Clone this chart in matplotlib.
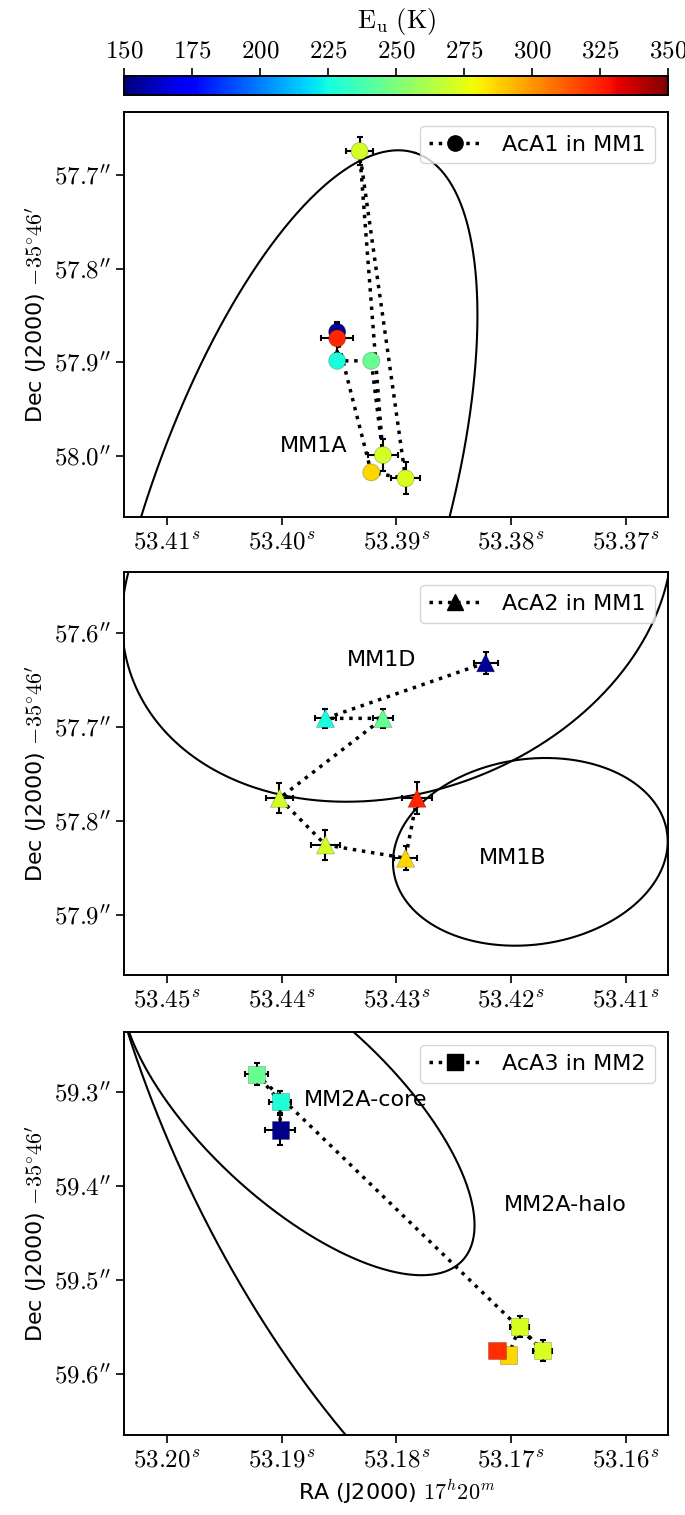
import numpy as np
import matplotlib
matplotlib.use("Agg")
import matplotlib.pyplot as plt
from matplotlib.lines import Line2D

plt.rcParams['mathtext.fontset'] = 'cm'
plt.rcParams['font.family'] = ['DejaVu Sans']

# ---------------- data ----------------
# Panel 1: AcA1 in MM1 (circles)
ra1 = [53.39515, 53.39515, 53.39218, 53.39116, 53.39320, 53.38919, 53.39218, 53.39515]
dec1 = [57.8675, 57.8985, 57.8985, 57.9992, 57.6744, 58.0241, 58.0177, 57.8745]
rae1 = [0.0006, 0.0004, 0.0004, 0.0013, 0.0012, 0.0013, 0.0005, 0.0014]
dece1 = [0.010, 0.005, 0.005, 0.017, 0.015, 0.017, 0.006, 0.016]
eu1 = [153, 226, 245, 271, 271, 273, 286, 324]

# Panel 2: AcA2 in MM1 (triangles)
ra2 = [53.42221, 53.43617, 53.43116, 53.44018, 53.43617, 53.42919, 53.42819]
dec2 = [57.6319, 57.6910, 57.6910, 57.7760, 57.8256, 57.8397, 57.7760]
rae2 = [0.00105, 0.0009, 0.0009, 0.0012, 0.0013, 0.0010, 0.0013]
dece2 = [0.012, 0.010, 0.010, 0.016, 0.016, 0.013, 0.017]
eu2 = [154, 226, 245, 271, 271, 286, 324]

# Panel 3: AcA3 in MM2 (squares)
ra3 = [53.19012, 53.19012, 53.19216, 53.16723, 53.16924, 53.17020, 53.17121]
dec3 = [59.3407, 59.3106, 59.2812, 59.5752, 59.5497, 59.5798, 59.5752]
rae3 = [0.0013, 0.00095, 0.0010, 0.00085, 0.0008, 0.0004, 0.0004]
dece3 = [0.016, 0.012, 0.012, 0.011, 0.011, 0.005, 0.005]
eu3 = [152, 228, 245, 272, 272, 286, 322]

# continuum sources: [RA (s), Dec ("), semi-major ("), semi-minor ("), PA (deg)]
ell_mm1a = [53.39954, 58.0976, 0.4427, 0.1572, -17.9]
ell_mm1d = [53.42993, 57.5434, 0.2999, 0.2261, -69.6]
ell_mm1b = [53.41831, 57.8330, 0.1465, 0.0987, -82.0]
ell_core = [53.18858, 59.3174, 0.2382, 0.0998, 47.2]
ell_halo = [53.17616, 59.2695, 0.6370, 0.2973, 25.0]

xt1 = [53.41, 53.40, 53.39, 53.38, 53.37]
yt1 = [57.7, 57.8, 57.9, 58.0]
xt2 = [53.45, 53.44, 53.43, 53.42, 53.41]
yt2 = [57.6, 57.7, 57.8, 57.9]
xt3 = [53.20, 53.19, 53.18, 53.17, 53.16]
yt3 = [59.3, 59.4, 59.5, 59.6]
cb_ticks = [150, 175, 200, 225, 250, 275, 300, 325, 350]

DEC0 = -(35 + 46 / 60 + 58 / 3600)
COSD = np.cos(np.radians(DEC0))


def ellipse_xy(ra0, dec0, a, b, pa):
    t = np.linspace(0, 2 * np.pi, 720)
    u = a * np.cos(t)
    v = b * np.sin(t)
    p = np.radians(pa)
    east = u * np.sin(p) + v * np.cos(p)
    north = u * np.cos(p) - v * np.sin(p)
    return ra0 + east / (15 * COSD), dec0 - north


W, H = 685, 1515
fig = plt.figure(figsize=(W / 100, H / 100), dpi=100)


def add_ax(top_px, bot_px):
    return fig.add_axes([124.4 / W, 1 - bot_px / H, 543.7 / W, (bot_px - top_px) / H])


ax1 = add_ax(112.3, 516.7)
ax2 = add_ax(571.7, 975.0)
ax3 = add_ax(1031.7, 1435.0)
cax = fig.add_axes([124.4 / W, 1 - 95 / H, 543.7 / W, 19 / H])

cmap = plt.get_cmap('jet')
FS = 16
TFS = 18


def panel(ax, ra, dec, rae, dece, eu, marker, ms, ells, xlim, ylim, xt, yt, legend_label):
    for e in ells:
        x, y = ellipse_xy(*e)
        ax.plot(x, y, color='k', lw=1.5, zorder=1)
    ax.plot(ra, dec, color='k', ls=':', lw=2.5, zorder=2)
    ax.errorbar(ra, dec, xerr=rae, yerr=dece, fmt='none', ecolor='k',
                elinewidth=1.5, capsize=2.5, capthick=1.5, zorder=3)
    sc = ax.scatter(ra, dec, c=eu, cmap=cmap, vmin=150, vmax=350, marker=marker,
                    s=ms, edgecolors=(0, 0, 0, 0.25), linewidths=0.6, zorder=4)
    ax.set_xlim(*xlim)
    ax.set_ylim(*ylim)
    ax.set_xticks(xt)
    ax.set_xticklabels([r"$%.2f^s$" % v for v in xt])
    ax.set_yticks(yt)
    ax.set_yticklabels([r"$%.1f''$" % v for v in yt])
    ax.tick_params(direction='out', length=6, width=1.2, labelsize=TFS)
    for s in ax.spines.values():
        s.set_linewidth(1.4)
    ax.set_ylabel(r"Dec (J2000) $-35^{\circ}46'$", fontsize=FS)
    h = Line2D([], [], color='k', ls=':', lw=2.5, marker=marker, ms=11)
    ax.legend([h], [legend_label], loc='upper right', fontsize=FS,
              borderaxespad=0.6, handlelength=2.3, handletextpad=1.0)
    return sc


sc = panel(ax1, ra1, dec1, rae1, dece1, eu1, 'o', 150, [ell_mm1a],
           (53.4137, 53.3663), (58.065, 57.633), xt1, yt1, 'AcA1 in MM1')
panel(ax2, ra2, dec2, rae2, dece2, eu2, '^', 170, [ell_mm1d, ell_mm1b],
      (53.4537, 53.4063), (57.964, 57.535), xt2, yt2, 'AcA2 in MM1')
panel(ax3, ra3, dec3, rae3, dece3, eu3, 's', 155, [ell_core, ell_halo],
      (53.2037, 53.1563), (59.665, 59.236), xt3, yt3, 'AcA3 in MM2')

ax1.text(53.39724, 57.9896, 'MM1A', fontsize=FS, ha='center', va='center')
ax2.text(53.43125, 57.629, 'MM1D', fontsize=FS, ha='center', va='center')
ax2.text(53.41988, 57.8394, 'MM1B', fontsize=FS, ha='center', va='center')
ax3.text(53.18270, 59.3088, 'MM2A-core', fontsize=FS, ha='center', va='center')
ax3.text(53.16525, 59.4204, 'MM2A-halo', fontsize=FS, ha='center', va='center')

ax3.set_xlabel(r"RA (J2000) $17^h20^m$", fontsize=FS)

cb = fig.colorbar(sc, cax=cax, orientation='horizontal', ticklocation='top')
cb.set_ticks(cb_ticks)
cb.set_ticklabels([r"$%d$" % v for v in cb_ticks])
cb.ax.tick_params(direction='out', length=6, width=1.2, labelsize=TFS)
cb.outline.set_linewidth(1.4)
cb.set_label(r"$\mathrm{E_u\ (K)}$", fontsize=19, labelpad=8)

fig.savefig('out.png', dpi=100)
